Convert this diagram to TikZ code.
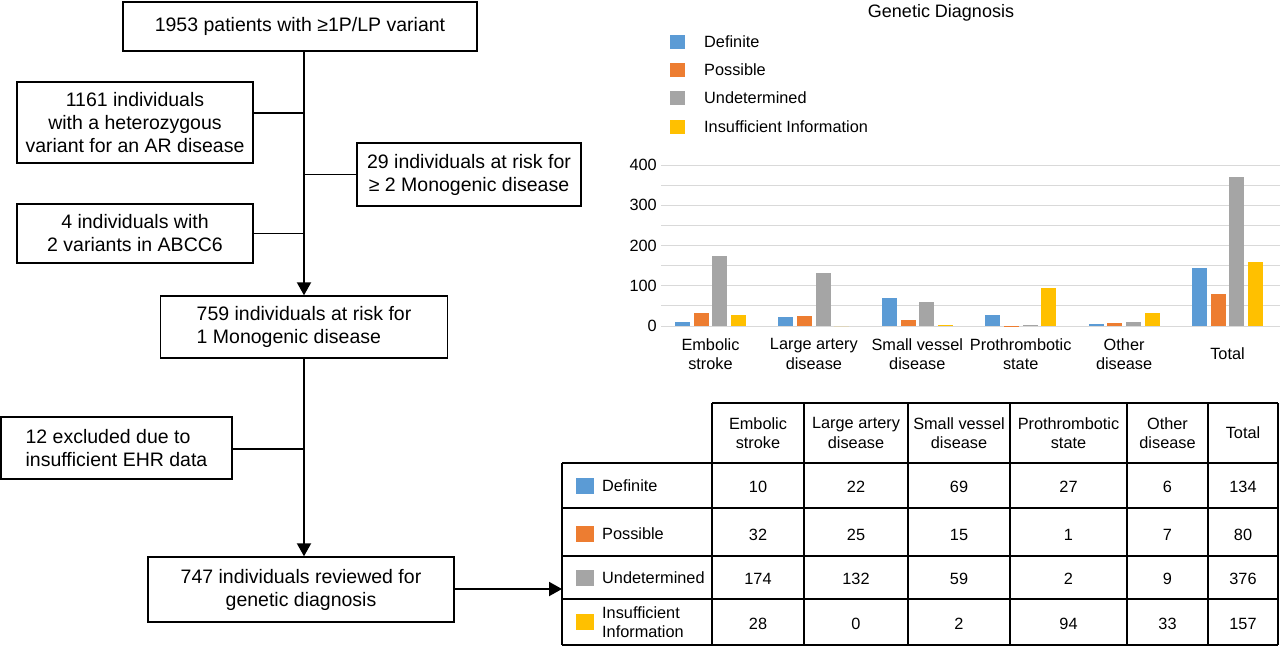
\documentclass[tikz,border=0pt]{standalone}
\usepackage{fontspec}
\setmainfont{Liberation Sans}
\usetikzlibrary{arrows.meta}
\definecolor{cblue}{HTML}{5B9BD5}
\definecolor{corange}{HTML}{ED7D31}
\definecolor{cgray}{HTML}{A5A5A5}
\definecolor{cyellow}{HTML}{FFC000}
\definecolor{gridc}{HTML}{D9D9D9}
\begin{document}
\begin{tikzpicture}[x=1pt,y=-1pt,
  flowbox/.style={draw=black,line width=1.4pt,inner sep=0pt,align=center,font=\fontsize{19.5}{23}\selectfont},
  flowline/.style={line width=1.6pt},
  flowarr/.style={line width=2pt,-{Triangle[width=14pt,length=13pt]}},
  small/.style={inner sep=0pt,align=center,font=\fontsize{16.3}{19.5}\selectfont},
  tline/.style={line width=1.4pt},
  legsq/.style={inner sep=0pt,minimum width=15pt,minimum height=14pt},
  tabsq/.style={inner sep=0pt,minimum width=18pt,minimum height=16pt}]
\useasboundingbox (0,0) rectangle (1280,646);
\fill[white] (0,0) rectangle (1280,646);

% ---------- flowchart ----------
\node[flowbox,minimum width=354pt,minimum height=49pt] (b1) at (300,26.5) {1953 patients with ≥1P/LP variant};
\node[flowbox,minimum width=236pt,minimum height=81pt] (b1161) at (135,122.5) {1161 individuals\\with a heterozygous\\variant for an AR disease};
\node[flowbox,minimum width=224pt,minimum height=63pt] (b29) at (469,174.5) {29 individuals at risk for\\≥ 2 Monogenic disease};
\node[flowbox,minimum width=236pt,minimum height=59pt] (b4) at (135,233.5) {4 individuals with\\2 variants in ABCC6};
\node[flowbox,minimum width=287pt,minimum height=62pt,align=left] (b759) at (304,327) {759 individuals at risk for\\ 1 Monogenic disease};
\node[flowbox,minimum width=231pt,minimum height=62pt,align=left] (b12) at (116.5,448) {12 excluded due to\\insufficient EHR data};
\node[flowbox,minimum width=306pt,minimum height=65pt] (b747) at (301,589.5) {747 individuals reviewed for\\genetic diagnosis};

\coordinate (s1) at (304,113);
\coordinate (s2) at (304,449);
\draw[flowarr] (b1.south -| b759.north) -- (b759.north);
\draw[flowarr] (b759.south) -- (b759.south |- b747.north);
\draw[flowline] (b1161.east |- s1) -- (s1);
\draw[flowline] (b29.west) -- (b29.west -| b759.north);
\draw[flowline] (b4.east) -- (b4.east -| b759.north);
\draw[flowline] (b12.east |- s2) -- (s2);

% ---------- chart ----------
\node[inner sep=0pt,font=\fontsize{18}{21}\selectfont] (title) at (941,13) {Genetic Diagnosis};
\foreach \n/\c/\t/\yy in {l1/cblue/Definite/42,l2/corange/Possible/70,l3/cgray/Undetermined/98,l4/cyellow/Insufficient Information/127}{
  \node[legsq,fill=\c] (\n) at (677.5,\yy) {};
  \node[small,anchor=west] (\n t) at (704,\yy) {\t};
}
\foreach \v in {0,50,...,400}{
  \draw[gridc,line width=1pt] (661,{326-\v*0.4025}) -- (1280,{326-\v*0.4025});
}
\foreach \v in {0,100,200,300,400}{
  \node[small,anchor=east] (y\v) at (657,{326-\v*0.4025}) {\v};
}
\foreach \i/\a/\b/\c/\d in {0/10/32/174/28,1/22/25/132/0,2/69/15/59/2,3/27/1/2/94,4/6/7/9/33,5/143/79/371/158}{
  \pgfmathsetmacro\cx{710.5+103.4*\i}
  \fill[cblue] ({\cx-35.5},326) rectangle ({\cx-20.5},{326-\a*0.4025});
  \fill[corange] ({\cx-16.8},326) rectangle ({\cx-1.8},{326-\b*0.4025});
  \fill[cgray] ({\cx+1.8},326) rectangle ({\cx+16.8},{326-\c*0.4025});
  \fill[cyellow] ({\cx+20.5},326) rectangle ({\cx+35.5},{326-\d*0.4025});
}
\node[small] (c0) at (710.5,354) {Embolic\\stroke};
\node[small] (c1) at (813.9,354) {Large artery\\disease};
\node[small] (c2) at (917.3,354) {Small vessel\\disease};
\node[small] (c3) at (1020.7,354) {Prothrombotic\\state};
\node[small] (c4) at (1124.1,354) {Other\\disease};
\node[small] (c5) at (1227.5,354) {Total};

% ---------- table ----------
\draw[tline] (712,403) -- (1278,403);
\foreach \yy in {463,508,556,599,645}{ \draw[tline] (562,\yy) -- (1278,\yy); }
\draw[tline] (562,463) -- (562,645);
\foreach \xx in {712,804,908,1010,1127,1208,1278}{ \draw[tline] (\xx,403) -- (\xx,645); }

\node[small] (h1) at (758,433) {Embolic\\stroke};
\node[small] (h2) at (856,433) {Large artery\\disease};
\node[small] (h3) at (959,433) {Small vessel\\disease};
\node[small] (h4) at (1068.5,433) {Prothrombotic\\state};
\node[small] (h5) at (1167.5,433) {Other\\disease};
\node[small] (h6) at (1243,433) {Total};

\foreach \n/\c/\t/\yy in {r1/cblue/Definite/485.5,r2/corange/Possible/534,r3/cgray/Undetermined/578,r4/cyellow/{Insufficient\\Information}/622}{
  \node[tabsq,fill=\c] (\n s) at (585,\yy) {};
  \node[small,anchor=west,align=left] (\n t) at (602,\yy) {\t};
}
\foreach \r/\yy/\a/\b/\c/\d/\e/\f in {1/487/10/22/69/27/6/134,2/535/32/25/15/1/7/80,3/579/174/132/59/2/9/376,4/624/28/0/2/94/33/157}{
  \node[small] (v\r a) at (758,\yy) {\a};
  \node[small] (v\r b) at (856,\yy) {\b};
  \node[small] (v\r c) at (959,\yy) {\c};
  \node[small] (v\r d) at (1068.5,\yy) {\d};
  \node[small] (v\r e) at (1167.5,\yy) {\e};
  \node[small] (v\r f) at (1243,\yy) {\f};
}
\coordinate (tin) at (562,589);
\draw[flowarr] (b747.east |- tin) -- (tin);
\end{tikzpicture}
\end{document}
